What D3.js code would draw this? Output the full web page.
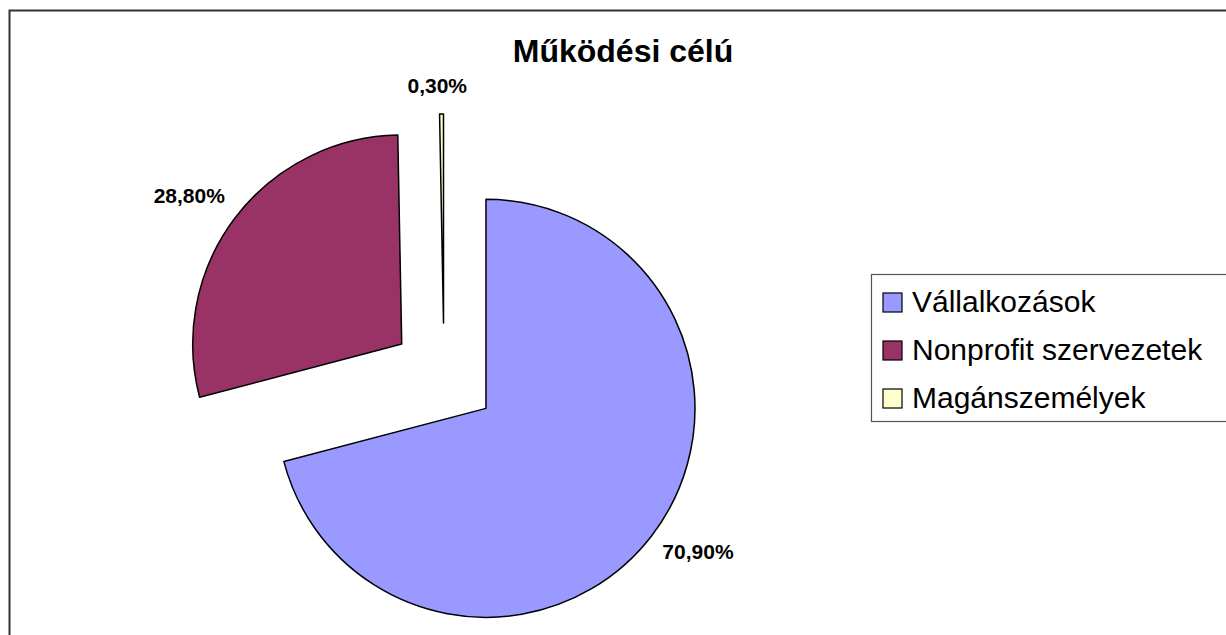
<!DOCTYPE html>
<html>
<head>
<meta charset="utf-8">
<script src="https://cdn.jsdelivr.net/npm/d3@7"></script>
<style>
  body { margin: 0; background: #fff; }
  svg { display: block; }
</style>
</head>
<body>
<div class="chart"></div>
<script>
// Data
const title = "Működési célú";
const categories = ["Vállalkozások", "Nonprofit szervezetek", "Magánszemélyek"];
const values = [70.9, 28.8, 0.3];
const labels = ["70,90%", "28,80%", "0,30%"];
const colors = ["#9999FF", "#993366", "#FFFFCC"];

// Mesures
const size = { width: 1226, height: 635 };
const center = { x: 444, y: 376 };
const radius = 209;
const explode = 53;
const font = "Liberation Sans, Arial, sans-serif";

const svg = d3.select(".chart")
    .append("svg")
    .attr("width", size.width)
    .attr("height", size.height);

// outer frame (runs past the window on right/bottom)
svg.append("rect")
    .attr("x", 9.5)
    .attr("y", 10.5)
    .attr("width", 1240)
    .attr("height", 640)
    .attr("fill", "#fff")
    .attr("stroke", "#333")
    .attr("stroke-width", 2);

svg.append("text")
    .attr("x", 623)
    .attr("y", 62)
    .attr("text-anchor", "middle")
    .attr("font-family", font)
    .attr("font-weight", "bold")
    .attr("font-size", 32)
    .text(title);

const pie = d3.pie()
    .sort(null)
    .value((d) => d);

const arcs = pie(values);

const arc = d3.arc()
    .innerRadius(0)
    .outerRadius(radius);

const g = svg.append("g")
    .attr("transform", `translate(${center.x},${center.y})`);

const offset = (d) => {
    const a = (d.startAngle + d.endAngle) / 2;
    return [Math.sin(a) * explode, -Math.cos(a) * explode];
};

g.selectAll("path")
    .data(arcs)
    .enter()
    .append("path")
    .attr("d", arc)
    .attr("transform", (d) => `translate(${offset(d)[0]},${offset(d)[1]})`)
    .attr("fill", (d, i) => colors[i])
    .attr("stroke", "#000")
    .attr("stroke-width", 1.5)
    .attr("stroke-linejoin", "round");

// data labels (placed outside each slice)
const labelRadius = [308, 313, 290];
const labelShift = [[10, -12], [-5, 8], [-4, 0]];
svg.selectAll(".lbl")
    .data(arcs)
    .enter()
    .append("text")
    .attr("class", "lbl")
    .attr("x", (d, i) => {
        const a = (d.startAngle + d.endAngle) / 2;
        return center.x + Math.sin(a) * labelRadius[i] + labelShift[i][0];
    })
    .attr("y", (d, i) => {
        const a = (d.startAngle + d.endAngle) / 2;
        return center.y - Math.cos(a) * labelRadius[i] + labelShift[i][1];
    })
    .attr("dy", "0.35em")
    .attr("text-anchor", "middle")
    .attr("font-family", font)
    .attr("font-weight", "bold")
    .attr("font-size", 21)
    .text((d, i) => labels[i]);

// legend
const legend = svg.append("g")
    .attr("transform", "translate(871,274)");

legend.append("rect")
    .attr("x", 0.5)
    .attr("y", 0.5)
    .attr("width", 400)
    .attr("height", 147)
    .attr("fill", "#fff")
    .attr("stroke", "#555")
    .attr("stroke-width", 1.2);

const rows = legend.selectAll(".row")
    .data(categories)
    .enter()
    .append("g")
    .attr("class", "row")
    .attr("transform", (d, i) => `translate(12,${19 + i * 48})`);

rows.append("rect")
    .attr("width", 19)
    .attr("height", 19)
    .attr("fill", (d, i) => colors[i])
    .attr("stroke", "#000")
    .attr("stroke-width", 1.2);

rows.append("text")
    .attr("x", 29)
    .attr("y", 19)
    .attr("font-family", font)
    .attr("font-size", 30)
    .text((d) => d);
</script>
</body>
</html>
